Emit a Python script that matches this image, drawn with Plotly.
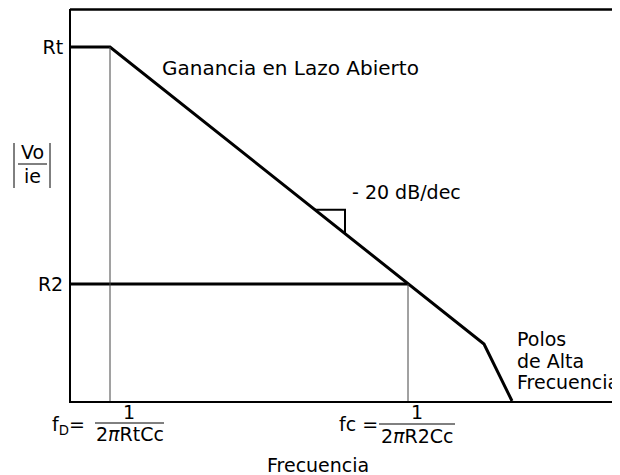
import plotly.graph_objects as go

# ---- data (arbitrary linear units) ----
freq_breaks = [0, 39, 413, 441]          # open-loop gain corner points (frequency axis)
gain_open = [354, 354, 57, 0]            # open-loop gain at those points
Rt = 354
R2 = 117
fD = 39
fc = 337
ytick_vals = [R2, Rt]
ytick_text = ["R2", "Rt"]
X_MAX = 548
Y_MAX = 392

FONT = "DejaVu Sans"
FS = 19

fig = go.Figure()

# open-loop gain
fig.add_trace(go.Scatter(x=freq_breaks, y=gain_open, mode="lines",
                         line=dict(color="black", width=3), hoverinfo="skip"))
# closed-loop gain R2
fig.add_trace(go.Scatter(x=[0, fc], y=[R2, R2], mode="lines",
                         line=dict(color="black", width=3), hoverinfo="skip"))
# thin verticals
fig.add_trace(go.Scatter(x=[fD, fD], y=[0, Rt], mode="lines",
                         line=dict(color="#444", width=1), hoverinfo="skip"))
fig.add_trace(go.Scatter(x=[fc, fc], y=[0, R2], mode="lines",
                         line=dict(color="#444", width=1), hoverinfo="skip"))

# slope triangle on the -20 dB/dec segment
slope = (gain_open[2] - gain_open[1]) / (freq_breaks[2] - freq_breaks[1])
tx1, tx2 = 244, 274
ty1 = gain_open[1] + slope * (tx1 - freq_breaks[1])
ty2 = gain_open[1] + slope * (tx2 - freq_breaks[1])
fig.add_trace(go.Scatter(x=[tx1, tx2, tx2], y=[ty1, ty1, ty2], mode="lines",
                         line=dict(color="black", width=2), hoverinfo="skip"))

# page has an 8px body margin: figure sits at (8, 8) in the window
OFF = 8
W, H = 620 - OFF, 475 - OFF
PL, PR, PT, PB = 71, 619, 9, 401          # plot area in window pixels
L, R, T, B = PL - OFF, (W + OFF) - PR, PT - OFF, (H + OFF) - PB


def px(x):
    return (x - PL) / (PR - PL)


def py(y):
    return (PB - y) / (PB - PT)


ann = []


def txt(text, x, y, xa="center", ya="middle", size=FS):
    ann.append(dict(text=text, x=x, y=y, xref="paper", yref="paper", xanchor=xa, yanchor=ya,
                    showarrow=False, font=dict(family=FONT, size=size, color="black")))


# in-plot texts
txt("Ganancia en Lazo Abierto", px(160), py(68), xa="left", size=20)
txt("- 20 dB/dec", px(350), py(192), xa="left")
txt("Polos", px(515), py(339), xa="left")
txt("de Alta", px(515), py(361), xa="left")
txt("Frecuencia", px(515), py(382), xa="left")

# x-axis fraction labels
txt("f<sub>D</sub>=", px(87), py(425), xa="right")
txt("1", px(129), py(412))
txt("2<i>\u03c0</i>RtCc", px(129.5), py(434))
txt("fc =", px(380), py(424), xa="right")
txt("1", px(417), py(412))
txt("2<i>\u03c0</i>R2Cc", px(417), py(436))
txt("Frecuencia", px(318), py(465))

# y-axis label |Vo/ie|
txt("Vo", px(32), py(152))
txt("ie", px(32), py(176))

shapes = []


def seg(x0, y0, x1, y1, color="black", width=1):
    shapes.append(dict(type="line", xref="paper", yref="paper",
                       x0=px(x0), y0=py(y0), x1=px(x1), y1=py(y1),
                       line=dict(color=color, width=width), layer="above"))


seg(95, 423, 164, 423)
seg(379, 424, 455, 424)
seg(18, 164, 47, 164)
seg(14, 143, 14, 188)
seg(50, 143, 50, 188)
# frame: top line and faint right edge
seg(70, 9.5, 620, 9.5, width=2.5)
seg(618.5, 9, 618.5, 401, color="#ccc", width=1)

fig.update_layout(
    width=W, height=H,
    margin=dict(l=L, r=R, t=T, b=B),
    paper_bgcolor="white", plot_bgcolor="white",
    showlegend=False,
    font=dict(family=FONT, size=FS, color="black"),
    xaxis=dict(range=[0, X_MAX], showgrid=False, zeroline=False, showticklabels=False,
               showline=True, linecolor="black", linewidth=2, ticks="", fixedrange=True),
    yaxis=dict(range=[0, Y_MAX], showgrid=False, zeroline=False,
               tickvals=ytick_vals, ticktext=ytick_text, ticks="",
               tickfont=dict(family=FONT, size=FS, color="black"),
               ticklabelstandoff=2,
               showline=True, linecolor="black", linewidth=2, fixedrange=True),
    annotations=ann,
    shapes=shapes,
)

fig.write_html("out.html")
